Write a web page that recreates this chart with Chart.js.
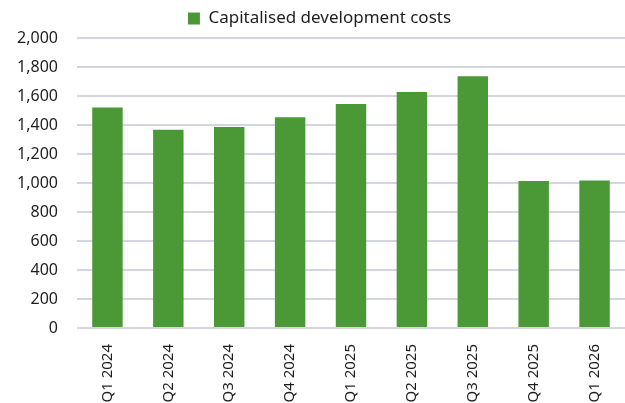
<!DOCTYPE html>
<html>
<head>
<meta charset="utf-8">
<script src="https://cdn.jsdelivr.net/npm/chart.js@4"></script>
<style>
  html, body { margin: 0; padding: 0; background: #ffffff; }
  #wrap { width: 625px; height: 403px; position: relative; }
</style>
</head>
<body>
<div id="wrap"><canvas id="chart"></canvas></div>
<script>
// Quarterly capitalised development costs
const quarters = ['Q1 2024', 'Q2 2024', 'Q3 2024', 'Q4 2024', 'Q1 2025', 'Q2 2025', 'Q3 2025', 'Q4 2025', 'Q1 2026'];
const devCosts = [1520, 1368, 1386, 1453, 1545, 1628, 1736, 1014, 1017];
const seriesLabel = 'Capitalised development costs';

const FONT = '"Noto Sans", sans-serif';

// fixed legend height so the plot top lands where the reference has it,
// and nudge the legend right a bit (reference has a tighter box/text gap)
const legendTweak = {
    id: 'legendTweak',
    beforeInit(chart) {
        const legend = chart.legend;
        const fit = legend.fit;
        legend.fit = function () {
            fit.call(legend);
            this.height = 38;
        };
        const draw = legend.draw;
        legend.draw = function () {
            const ctx = chart.ctx;
            ctx.save();
            ctx.translate(7, 0);
            draw.call(legend);
            ctx.restore();
        };
    }
};

new Chart(document.getElementById('chart'), {
    type: 'bar',
    data: {
        labels: quarters,
        datasets: [{
            label: seriesLabel,
            data: devCosts,
            backgroundColor: '#4a9836',
            borderWidth: 0,
            barPercentage: 0.5,
            categoryPercentage: 1.0
        }]
    },
    options: {
        responsive: true,
        maintainAspectRatio: false,
        animation: false,
        layout: { padding: 0 },
        plugins: {
            legend: {
                display: true,
                position: 'top',
                labels: {
                    boxWidth: 12,
                    boxHeight: 12,
                    color: '#1e1e1e',
                    font: { family: FONT, size: 17 }
                }
            },
            tooltip: { enabled: false }
        },
        scales: {
            x: {
                grid: { display: false },
                border: { display: false },
                ticks: {
                    color: '#1e1e1e',
                    maxRotation: 90,
                    minRotation: 90,
                    padding: 8,
                    font: { family: FONT, size: 15 }
                },
                afterFit(scale) { scale.height = 75; }
            },
            y: {
                min: 0,
                max: 2000,
                border: { display: false },
                grid: {
                    color: '#d3d5e3',
                    lineWidth: 2,
                    drawTicks: false
                },
                ticks: {
                    stepSize: 200,
                    padding: 19,
                    color: '#1e1e1e',
                    font: { family: FONT, size: 16 },
                    callback: v => v.toLocaleString('en-US')
                },
                afterFit(scale) { scale.width = 77; }
            }
        }
    },
    plugins: [legendTweak]
});
</script>
</body>
</html>
